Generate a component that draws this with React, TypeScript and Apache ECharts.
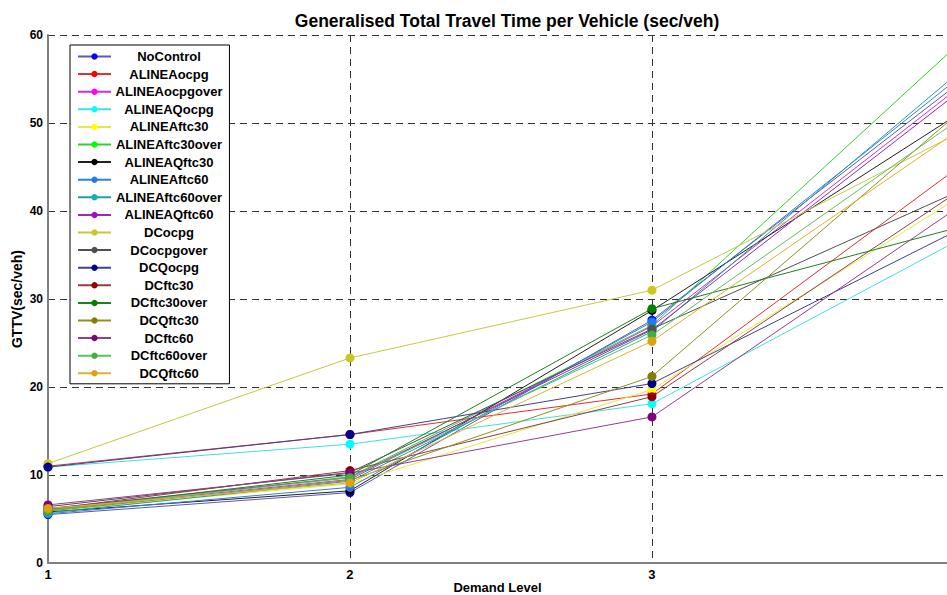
import React, { useEffect, useRef } from "react";
import * as echarts from "echarts";

const demandLevels = [1, 2, 3, 4];
const xTickLabels = ["1", "2", "3"];

const seriesNames = [
  "NoControl", "ALINEAocpg", "ALINEAocpgover", "ALINEAQocpg", "ALINEAftc30",
  "ALINEAftc30over", "ALINEAQftc30", "ALINEAftc60", "ALINEAftc60over", "ALINEAQftc60",
  "DCocpg", "DCocpgover", "DCQocpg", "DCftc30", "DCftc30over",
  "DCQftc30", "DCftc60", "DCftc60over", "DCQftc60",
];

const markerColors = [
  "#0000ff", "#ff0000", "#ff00ff", "#00ffff", "#ffff00",
  "#00ff00", "#000000", "#1e7cf0", "#10b0b0", "#a010c0",
  "#c8c820", "#505050", "#000090", "#900000", "#008000",
  "#808000", "#800080", "#40b040", "#e0a010",
];

const lineColors = [
  "#5a5ab4", "#e03030", "#d030d0", "#40e0e0", "#e8e840",
  "#30d030", "#202020", "#3080e0", "#20a0a0", "#9030b0",
  "#c8c840", "#505050", "#404090", "#904040", "#208020",
  "#909020", "#904090", "#60c060", "#e0b030",
];

const NoControl = [5.5, 8.0, 27.6, 54.1];
const ALINEAocpg = [11.0, 14.6, 19.2, 44.6];
const ALINEAocpgover = [6.0, 9.5, 26.9, 53.6];
const ALINEAQocpg = [10.9, 13.5, 18.1, 36.4];
const ALINEAftc30 = [5.9, 9.0, 19.7, 41.2];
const ALINEAftc30over = [6.0, 9.8, 27.0, 58.5];
const ALINEAQftc30 = [5.8, 8.2, 28.7, 50.7];
const ALINEAftc60 = [5.6, 8.6, 27.4, 54.7];
const ALINEAftc60over = [5.7, 9.3, 26.3, 55.3];
const ALINEAQftc60 = [6.2, 9.7, 26.5, 53.1];
const DCocpg = [11.3, 23.3, 31.0, 48.6];
const DCocpgover = [6.4, 10.3, 26.6, 42.0];
const DCQocpg = [10.9, 14.6, 20.4, 37.6];
const DCftc30 = [6.1, 10.5, 18.9, 41.9];
const DCftc30over = [6.0, 10.0, 28.9, 38.0];
const DCQftc30 = [5.9, 9.4, 21.2, 50.7];
const DCftc60 = [6.6, 10.2, 16.6, 40.1];
const DCftc60over = [6.0, 9.7, 25.9, 50.0];
const DCQftc60 = [6.2, 9.1, 25.2, 48.8];

const seriesValues = [
  NoControl, ALINEAocpg, ALINEAocpgover, ALINEAQocpg, ALINEAftc30,
  ALINEAftc30over, ALINEAQftc30, ALINEAftc60, ALINEAftc60over, ALINEAQftc60,
  DCocpg, DCocpgover, DCQocpg, DCftc30, DCftc30over,
  DCQftc30, DCftc60, DCftc60over, DCQftc60,
];

const yTicks = { min: 0, max: 60, interval: 10 };
// visible part of the x range (the original figure is cropped just before 4)
const xVisible = { min: 1, max: 3.977 };

export default function App() {
  const ref = useRef<HTMLDivElement>(null);
  useEffect(() => {
    if (!ref.current) return;
    const chart = echarts.init(ref.current, undefined, { renderer: "svg" });
    const font = "'Liberation Sans', Arial, sans-serif";
    chart.setOption({
      animation: false,
      backgroundColor: "#ffffff",
      title: {
        text: "Generalised Total Travel Time per Vehicle (sec/veh)",
        left: 502,
        textAlign: "center",
        top: 7,
        textStyle: { fontFamily: font, fontSize: 17.5, fontWeight: "bold", color: "#000" },
      },
      grid: {
        left: 48,
        top: 35,
        bottom: 32,
        right: 0,
        containLabel: false,
        outerBoundsMode: "none",
      },
      legend: {
        orient: "vertical",
        left: 70,
        top: 45,
        padding: [5, 7, 4, 7],
        itemWidth: 33,
        itemHeight: 8,
        itemGap: 4.6,
        backgroundColor: "#ffffff",
        borderColor: "#000000",
        borderWidth: 1,
        borderRadius: 0,
        data: seriesNames,
        formatter: "{a|{name}}",
        textStyle: {
          fontFamily: font,
          fontSize: 13,
          fontWeight: "bold",
          color: "#000",
          rich: {
            a: {
              width: 106,
              align: "center",
              lineHeight: 13,
              fontFamily: font,
              fontSize: 13,
              fontWeight: "bold",
              color: "#000",
            },
          },
        },
      },
      xAxis: {
        type: "value",
        min: xVisible.min,
        max: xVisible.max,
        interval: 1,
        name: "Demand Level",
        nameLocation: "middle",
        nameGap: 18,
        nameMoveOverlap: false,
        nameTextStyle: { fontFamily: font, fontSize: 13, fontWeight: "bold", color: "#000" },
        axisLine: { show: true, lineStyle: { color: "#808080", width: 2 } },
        axisTick: { show: false },
        axisLabel: {
          fontFamily: font,
          fontSize: 13,
          fontWeight: "bold",
          color: "#000",
          margin: 5,
          showMaxLabel: false,
          formatter: (v: number) => (xTickLabels.includes(String(v)) ? String(v) : ""),
        },
        splitLine: { show: true, lineStyle: { color: "#333333", type: [7, 5], width: 1 } },
      },
      yAxis: {
        type: "value",
        min: yTicks.min,
        max: yTicks.max,
        interval: yTicks.interval,
        name: "GTTV(sec/veh)",
        nameLocation: "middle",
        nameGap: 24,
        nameMoveOverlap: false,
        nameTextStyle: { fontFamily: font, fontSize: 14, fontWeight: "bold", color: "#000" },
        axisLine: { show: true, lineStyle: { color: "#808080", width: 2 } },
        axisTick: { show: false },
        axisLabel: { fontFamily: font, fontSize: 12, fontWeight: "bold", color: "#000", margin: 5 },
        splitLine: { show: true, lineStyle: { color: "#333333", type: [7, 5], width: 1 } },
      },
      series: seriesNames.map((name, i) => ({
        name,
        type: "line",
        clip: true,
        data: demandLevels.map((x, j) => [x, seriesValues[i][j]]),
        symbol: "circle",
        symbolSize: 9,
        itemStyle: { color: markerColors[i] },
        lineStyle: { color: lineColors[i], width: 1 },
        emphasis: { disabled: true },
      })),
    });
    return () => chart.dispose();
  }, []);
  return (
    <div
      ref={ref}
      style={{ position: "fixed", left: 0, top: 0, width: 947, height: 595 }}
    />
  );
}
